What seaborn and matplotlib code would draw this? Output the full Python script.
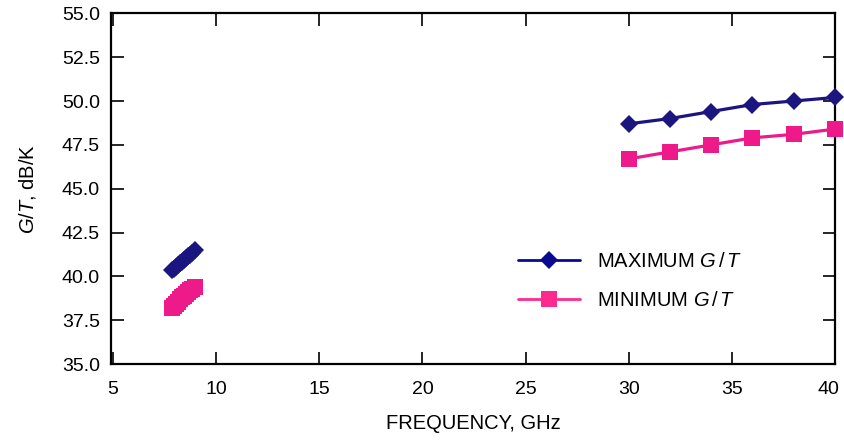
import matplotlib
matplotlib.use("Agg")
import matplotlib.pyplot as plt
import matplotlib.transforms as mtransforms
from matplotlib.lines import Line2D
import seaborn as sns
import pandas as pd

# ---- data ----
low_freq = [7.85, 7.95, 8.05, 8.15, 8.25, 8.35, 8.45, 8.55, 8.65, 8.75, 8.85, 8.95]
low_max = [40.35, 40.45, 40.55, 40.65, 40.75, 40.85, 40.95, 41.05, 41.15, 41.25, 41.35, 41.5]
low_min = [38.2, 38.3, 38.45, 38.55, 38.7, 38.8, 38.9, 39.0, 39.1, 39.2, 39.3, 39.4]
high_freq = [30, 32, 34, 36, 38, 40]
high_max = [48.7, 49.0, 49.4, 49.8, 50.0, 50.2]
high_min = [46.7, 47.1, 47.5, 47.9, 48.1, 48.4]
x_ticks = [5, 10, 15, 20, 25, 30, 35, 40]
y_ticks = [35.0, 37.5, 40.0, 42.5, 45.0, 47.5, 50.0, 52.5, 55.0]

navy = "#1b1580"
pink = "#ee1a8a"

sns.set_theme(style="ticks")
plt.rcParams["font.family"] = ["Liberation Sans", "DejaVu Sans"]
plt.rcParams["mathtext.fontset"] = "custom"
plt.rcParams["mathtext.it"] = "Liberation Sans:italic"
plt.rcParams["mathtext.rm"] = "Liberation Sans"
plt.rcParams["text.color"] = "black"
plt.rcParams["axes.labelcolor"] = "black"

fig = plt.figure(figsize=(8.44, 4.43), dpi=100)
ax = fig.add_axes([0.1315, 0.178, 0.8578, 0.792])

segments = [
    (low_freq, low_max, navy, "D", 9),
    (low_freq, low_min, pink, "s", 11),
    (high_freq, high_max, navy, "D", 9),
    (high_freq, high_min, pink, "s", 11),
]
for xs, ys, col, mk, ms in segments:
    df = pd.DataFrame({"f": xs, "gt": ys})
    sns.lineplot(data=df, x="f", y="gt", ax=ax, color=col, marker=mk,
                 markersize=ms, markeredgewidth=0, linewidth=2.3,
                 clip_on=False, zorder=3)

ax.set_xlim(4.9, 40)
ax.set_ylim(35, 55)
ax.set_xticks(x_ticks)
ax.set_xticklabels([str(v) for v in x_ticks])
ax.set_yticks(y_ticks)
ax.set_yticklabels([f"{v:.1f}" for v in y_ticks])
ax.tick_params(direction="in", length=9, width=1.2, top=True, right=True,
               labelsize=14, colors="black", pad=8)
ax.tick_params(axis="x", pad=12)
for s in ax.spines.values():
    s.set_linewidth(1.6)
    s.set_color("black")

# nudge the last x tick label left so it stays inside the figure
last = ax.get_xticklabels()[-1]
last.set_transform(last.get_transform() +
                   mtransforms.ScaledTranslation(-7 / 100, 0, fig.dpi_scale_trans))

ax.set_xlabel("FREQUENCY, GHz", fontsize=14.5, labelpad=12)
ax.set_ylabel(r"$\it{G}$/$\it{T}$, dB/K", fontsize=14.5, labelpad=17)

handles = [
    Line2D([], [], color="#0a0a90", marker="D", markersize=9, markeredgewidth=0, lw=2),
    Line2D([], [], color="#ff2a8e", marker="s", markersize=11, markeredgewidth=0, lw=2),
]
ax.legend(handles, [r"MAXIMUM $\it{G\,/\,T}$", r"MINIMUM $\it{G\,/\,T}$"],
          loc="center left", bbox_to_anchor=(0.562, 0.236), frameon=False,
          borderpad=0, borderaxespad=0,
          fontsize=14.5, handlelength=3.1, handletextpad=0.85, labelspacing=1.0)

fig.savefig("out.png", dpi=100)
